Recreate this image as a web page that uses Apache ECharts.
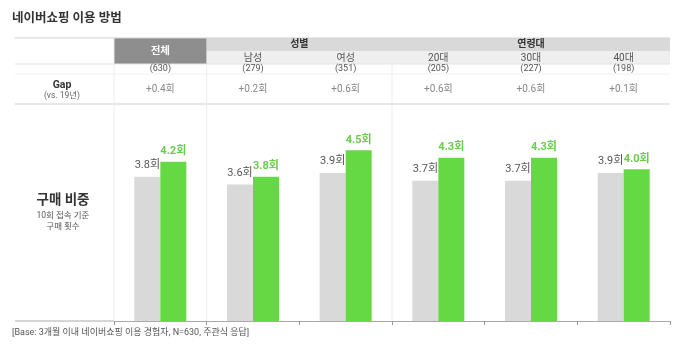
<!DOCTYPE html>
<html>
<head>
<meta charset="utf-8">
<script src="https://cdn.jsdelivr.net/npm/echarts@6/dist/echarts.min.js"></script>
<style>
  html, body { margin: 0; padding: 0; background: #fff; }
  #chart { width: 680px; height: 351px; }
</style>
</head>
<body>
<div id="chart"></div>
<script>
// data
const categories = ["전체", "남성", "여성", "20대", "30대", "40대"];
const baseCounts = ["(630)", "(279)", "(351)", "(205)", "(227)", "(198)"];
const gapLabels = ["+0.4회", "+0.2회", "+0.6회", "+0.6회", "+0.6회", "+0.1회"];
const prevValues = [3.8, 3.6, 3.9, 3.7, 3.7, 3.9];
const currValues = [4.2, 3.8, 4.5, 4.3, 4.3, 4.0];
const groups = [
  { name: "성별", from: 1, to: 2 },
  { name: "연령대", from: 3, to: 5 }
];

const FONT = "Roboto, 'Noto Sans CJK KR', sans-serif";
const L = 114, R = 670, LEFT = 15;
const TOP = 38, HEAD1 = 51, HEAD2 = 64, NROW = 74, GAPROW = 104, BASE = 321;
const catW = (R - L) / categories.length;
const cx = (i) => L + catW * (i + 0.5);
const edge = (i) => L + catW * i;

const chart = echarts.init(document.getElementById("chart"));

const g = [];
function line(x1, y1, x2, y2, color, w) {
  g.push({ type: "line", silent: true, shape: { x1, y1, x2, y2 }, style: { stroke: color, lineWidth: w || 1 } });
}
function text(x, y, t, size, color, weight, align) {
  g.push({
    type: "text", silent: true, x, y,
    style: { text: t, fontSize: size, fill: color, fontWeight: weight || "normal", fontFamily: FONT,
      align: align || "center", verticalAlign: "middle" }
  });
}

// header cells
g.push({ type: "rect", silent: true, shape: { x: L, y: TOP, width: catW, height: HEAD2 - TOP }, style: { fill: "#8e8e8e" } });
g.push({ type: "rect", silent: true, shape: { x: edge(1), y: TOP, width: R - edge(1), height: HEAD1 - TOP }, style: { fill: "#d9d9d9" } });
g.push({ type: "rect", silent: true, shape: { x: edge(1), y: HEAD1, width: R - edge(1), height: HEAD2 - HEAD1 }, style: { fill: "#efefef" } });

// table lines
line(LEFT, TOP, R, TOP, "#d0d0d0");
line(LEFT, HEAD2, R, HEAD2, "#e3e3e3");
line(LEFT, NROW, R, NROW, "#f0f0f0");
line(LEFT, GAPROW, R, GAPROW, "#d0d0d0", 1.2);
line(LEFT, BASE, L, BASE, "#aaaaaa");
[0, 1, 3].forEach((i) => line(edge(i), i === 0 ? TOP : HEAD2, edge(i), BASE, "#ececec"));

// texts
text(12, 19, "네이버쇼핑 이용 방법", 12.5, "#333", "bold", "left");
text(cx(0), (TOP + HEAD2) / 2, categories[0], 10.5, "#fff", "bold");
groups.forEach((gr) => text((edge(gr.from) + edge(gr.to + 1)) / 2, (TOP + HEAD1) / 2, gr.name, 10, "#333", "bold"));
categories.forEach((c, i) => {
  if (i > 0) text(cx(i), (HEAD1 + HEAD2) / 2 + 0.5, c, 10, "#555");
  text(cx(i), (HEAD2 + NROW) / 2, baseCounts[i], 9, "#555");
  text(cx(i), 89, gapLabels[i], 10, "#888");
});
text(62, 85, "Gap", 10.5, "#333", "bold");
text(62, 96, "(vs. 19년)", 8.5, "#666");
text(63, 201, "구매 비중", 13.5, "#333", "bold");
text(63, 216, "10회 접속 기준", 8.5, "#555");
text(63, 227, "구매 횟수", 8.5, "#555");
text(12, 333, "[Base: 3개월 이내 네이버쇼핑 이용 경험자, N=630, 주관식 응답]", 9, "#555", "normal", "left");

const fmt = (p) => p.value.toFixed(1) + "회";

chart.setOption({
  animation: false,
  textStyle: { fontFamily: FONT },
  grid: { left: L, right: 680 - R, top: GAPROW, bottom: 351 - BASE },
  xAxis: {
    type: "category",
    data: categories,
    axisLine: { lineStyle: { color: "#aaaaaa" } },
    axisTick: { show: true, length: 4, lineStyle: { color: "#999999" } },
    axisLabel: { show: false },
    splitLine: { show: false }
  },
  yAxis: { type: "value", min: 0, max: 5.72, show: false, splitLine: { show: false } },
  series: [
    {
      name: "19년", type: "bar", data: prevValues, barWidth: 26, barGap: 0,
      itemStyle: { color: "#d9d9d9" },
      label: { show: true, position: "top", distance: 6, formatter: fmt, fontSize: 11, color: "#555", fontFamily: FONT }
    },
    {
      name: "20년", type: "bar", data: currValues, barWidth: 26,
      itemStyle: { color: "#64d944" },
      label: { show: true, position: "top", distance: 5, formatter: fmt, fontSize: 11, fontWeight: "bold", color: "#6bcb4c", fontFamily: FONT }
    }
  ],
  graphic: g
});
</script>
</body>
</html>
